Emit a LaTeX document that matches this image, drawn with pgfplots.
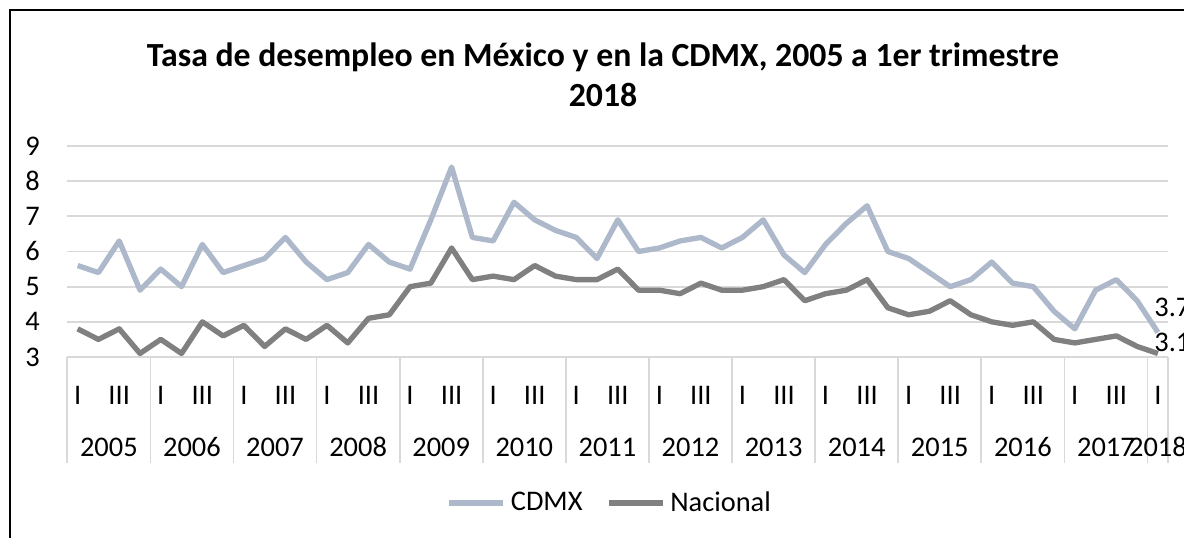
\documentclass[border=0pt]{standalone}
\usepackage{pgfplots}
\pgfplotsset{compat=1.18}
\usepackage{fontspec}
\setmainfont{Carlito}
\newlength\px
\setlength\px{0.4222pt}
\definecolor{cdmx}{HTML}{ADB9CA}
\definecolor{nac}{HTML}{808080}
\definecolor{grd}{HTML}{D9D9D9}
\newcommand\lblfont{\fontsize{12}{14}\selectfont}

\begin{document}
\begin{tikzpicture}
\useasboundingbox (0,0) rectangle (1184*\px,538*\px);
% chart area frame (only left and top edges fall inside the picture)
\draw[line width=0.75pt] (10*\px,-20*\px) -- (10*\px,528*\px) -- (1220*\px,528*\px);

\begin{axis}[
  at={(67.3*\px,181*\px)}, anchor=south west,
  scale only axis, width=1101*\px, height=211*\px,
  xmin=-0.5, xmax=52.5, ymin=3, ymax=9,
  ytick={3,...,9},
  ymajorgrids, grid style={grd, line width=0.75pt},
  xtick={0,2,...,52},
  xticklabels={I,III,I,III,I,III,I,III,I,III,I,III,I,III,I,III,I,III,I,III,I,III,I,III,I,III,I},
  major tick length=0pt,
  axis line style={draw=none},
  clip=false,
  tick label style={font=\lblfont},
  /pgf/number format/assume math mode=true,
  yticklabel style={anchor=east, inner sep=0pt, xshift=-27*\px},
  xticklabel style={anchor=center, inner sep=0pt, yshift=-38*\px},
  legend style={at={(0.494,-0.692)}, anchor=center, draw=none, fill=none,
    font=\lblfont, legend columns=2,
    /tikz/every even column/.append style={column sep=8pt}},
  legend image code/.code={\draw[#1] (0pt,0pt) -- (22.8pt,0pt);},
]
\addplot[cdmx, line width=2.25pt, line join=round] coordinates {
(0,5.6) (1,5.4) (2,6.3) (3,4.9) (4,5.5) (5,5.0) (6,6.2) (7,5.4)
(8,5.6) (9,5.8) (10,6.4) (11,5.7) (12,5.2) (13,5.4) (14,6.2) (15,5.7)
(16,5.5) (17,6.9) (18,8.4) (19,6.4) (20,6.3) (21,7.4) (22,6.9) (23,6.6)
(24,6.4) (25,5.8) (26,6.9) (27,6.0) (28,6.1) (29,6.3) (30,6.4) (31,6.1)
(32,6.4) (33,6.9) (34,5.9) (35,5.4) (36,6.2) (37,6.8) (38,7.3) (39,6.0)
(40,5.8) (41,5.4) (42,5.0) (43,5.2) (44,5.7) (45,5.1) (46,5.0) (47,4.3)
(48,3.8) (49,4.9) (50,5.2) (51,4.6) (52,3.7)
};
\addlegendentry{CDMX}
\addplot[nac, line width=2.25pt, line join=round] coordinates {
(0,3.8) (1,3.5) (2,3.8) (3,3.1) (4,3.5) (5,3.1) (6,4.0) (7,3.6)
(8,3.9) (9,3.3) (10,3.8) (11,3.5) (12,3.9) (13,3.4) (14,4.1) (15,4.2)
(16,5.0) (17,5.1) (18,6.1) (19,5.2) (20,5.3) (21,5.2) (22,5.6) (23,5.3)
(24,5.2) (25,5.2) (26,5.5) (27,4.9) (28,4.9) (29,4.8) (30,5.1) (31,4.9)
(32,4.9) (33,5.0) (34,5.2) (35,4.6) (36,4.8) (37,4.9) (38,5.2) (39,4.4)
(40,4.2) (41,4.3) (42,4.6) (43,4.2) (44,4.0) (45,3.9) (46,4.0) (47,3.5)
(48,3.4) (49,3.5) (50,3.6) (51,3.3) (52,3.1)
};
\addlegendentry{Nacional}

% category axis: year separators and year labels
\pgfplotsinvokeforeach{0,...,13}{
  \draw[grd, line width=0.75pt] (axis cs:{4*#1-0.5},3) -- ++(0pt,-106*\px);
}
\draw[grd, line width=0.75pt] (axis cs:52.5,3) -- ++(0pt,-106*\px);
\pgfplotsinvokeforeach{0,...,12}{
  \node[font=\lblfont, yshift=-90*\px] at (axis cs:{4*#1+1.5},3) {\number\numexpr2005+#1\relax};
}
\node[font=\lblfont, yshift=-90*\px] at (axis cs:52,3) {2018};

% data labels of the last quarter (cut at the right edge, as in the original)
\node[font=\lblfont, anchor=west, inner sep=0pt, xshift=-4*\px, yshift=24.5*\px] at (axis cs:52,3.7) {3.7};
\node[font=\lblfont, anchor=west, inner sep=0pt, xshift=-4*\px, yshift=11.5*\px] at (axis cs:52,3.1) {3.1};
\end{axis}

\node[font=\bfseries\fontsize{14.25}{17}\selectfont, align=center] at (603*\px,463*\px)
  {Tasa de desempleo en México y en la CDMX, 2005 a 1er trimestre\\2018};
\end{tikzpicture}
\end{document}
